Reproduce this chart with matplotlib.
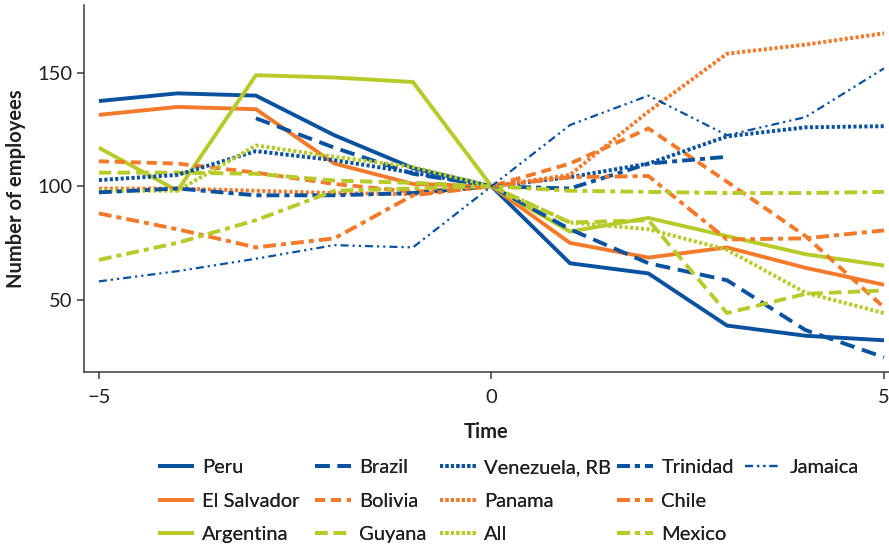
import numpy as np
import matplotlib.pyplot as plt

plt.rcParams['font.family'] = ['Lato', 'DejaVu Sans']

# Employees per year relative to the reference year (= 100)
tiempo = np.arange(-5, 6)
nan = np.nan
peru = [137.6, 141, 140, 122.5, 108, 100, 66, 61.5, 38.5, 34, 32]
el_salvador = [131.5, 135, 134, 110, 101, 100, 75, 68.5, 73, 64, 56.5]
argentina = [117, 98, 149, 148, 146, 100, 80, 86, 78, 70, 65]
brazil = [nan, nan, 130, 117, 105.5, 100, 81, 66, 58.5, 36.5, 24.5]
bolivia = [111, 110, 106, 101, 97.5, 100, 110, 125.5, 102, 78, 46.5]
guyana = [106, 106, 105.5, 102.5, 101.5, 100, 84, 85, 44, 52.5, 54]
venezuela = [102.7, 105, 115.5, 111.5, 106, 100, 104, 110, 122, 126, 126.5]
panama = [99, 99, 98, 97, 96.5, 100, 105, 133, 158.5, 162.5, 167.5]
todos = [98, 98, 118, 113, 108.5, 100, 84, 81, 72, 53, 44]
trinidad = [97.3, 99, 96, 96, 97, 100, 99, 110, 113, nan, nan]
chile = [88, 81, 73, 77, 96, 100, 104, 104.5, 76.5, 77, 80.5]
mexico = [67.5, 75, 85, 98, 99, 100, 98, 97.5, 97, 97, 97.5]
jamaica = [58, 62.5, 68, 74, 73, 100, 127, 140, 122.5, 130.5, 152]

azul = '#0a52a0'
naranja = '#f37a2b'
verde = '#b8c92a'

solido = (0, ())
guion = (0, (3.8, 2.0))
guion_corto = (0, (2.6, 1.5))
guion_medio = (0, (3.2, 1.6))
punteado = (0, (0.8, 0.6))
guion_punto = (0, (3.3, 1.3, 1.3, 1.3))
jam_estilo = (0, (3.6, 1.8, 1.0, 1.8, 1.0, 1.8))

# (etiqueta, datos, color, estilo, grosor)
series = [
    ("Peru", peru, azul, solido, 2.8),
    ("El Salvador", el_salvador, naranja, solido, 2.8),
    ("Argentina", argentina, verde, solido, 2.8),
    ("Brazil", brazil, azul, guion, 2.8),
    ("Bolivia", bolivia, naranja, guion_corto, 2.8),
    ("Guyana", guyana, verde, guion_medio, 2.8),
    ("Venezuela, RB", venezuela, azul, punteado, 2.8),
    ("Panama", panama, naranja, punteado, 2.8),
    ("All", todos, verde, punteado, 2.8),
    ("Trinidad", trinidad, azul, guion_punto, 2.8),
    ("Chile", chile, naranja, guion_punto, 2.8),
    ("Mexico", mexico, verde, guion_punto, 2.8),
    ("Jamaica", jamaica, azul, jam_estilo, 1.6),
]

fig = plt.figure(figsize=(8.89, 5.45), dpi=100)
ax = fig.add_axes([84/889, 1-372/545, (889-84)/889, (372-5)/545])

lineas = {}
for etiqueta, datos, color, estilo, grosor in series:
    l, = ax.plot(tiempo, datos, color=color, linestyle=estilo, linewidth=grosor,
                 label=etiqueta)
    lineas[etiqueta] = l

ax.set_xlim(-5.19, 5.064)
ax.set_ylim(18, 180)
ax.set_xticks([-5, 0, 5])
ax.set_xticklabels(['\u22125', '0', '5'])
ax.set_yticks([50, 100, 150])
ax.spines['top'].set_visible(False)
ax.spines['right'].set_visible(False)
for s in ['left', 'bottom']:
    ax.spines[s].set_color('#3a3a3a')
    ax.spines[s].set_linewidth(1.1)
ax.tick_params(colors='#3a3a3a', labelcolor='#231f20', labelsize=14.5, length=5, width=1.1)
ax.tick_params(axis='x', pad=7)
ax.set_xlabel("Time", fontsize=14.5, fontweight='bold', color='#231f20', labelpad=12)
ax.set_ylabel("Number of employees", fontsize=14.5, fontweight='bold', color='#231f20', labelpad=8)

# Leyenda: una columna por estilo de línea
columnas = [
    ["Peru", "El Salvador", "Argentina"],
    ["Brazil", "Bolivia", "Guyana"],
    ["Venezuela, RB", "Panama", "All"],
    ["Trinidad", "Chile", "Mexico"],
    ["Jamaica"],
]
x_columnas = [158, 315, 440, 617, 745]
for nombres, xc in zip(columnas, x_columnas):
    leg = fig.legend([lineas[n] for n in nombres], nombres, loc='upper left',
                     bbox_to_anchor=(xc/889, 1-459/545), frameon=False,
                     borderpad=0, borderaxespad=0, fontsize=14.5,
                     handlelength=1.8, handletextpad=0.4, labelspacing=0.82)
    for t in leg.get_texts():
        t.set_color('#231f20')
    fig.add_artist(leg)

fig.savefig("out.png", dpi=100)
